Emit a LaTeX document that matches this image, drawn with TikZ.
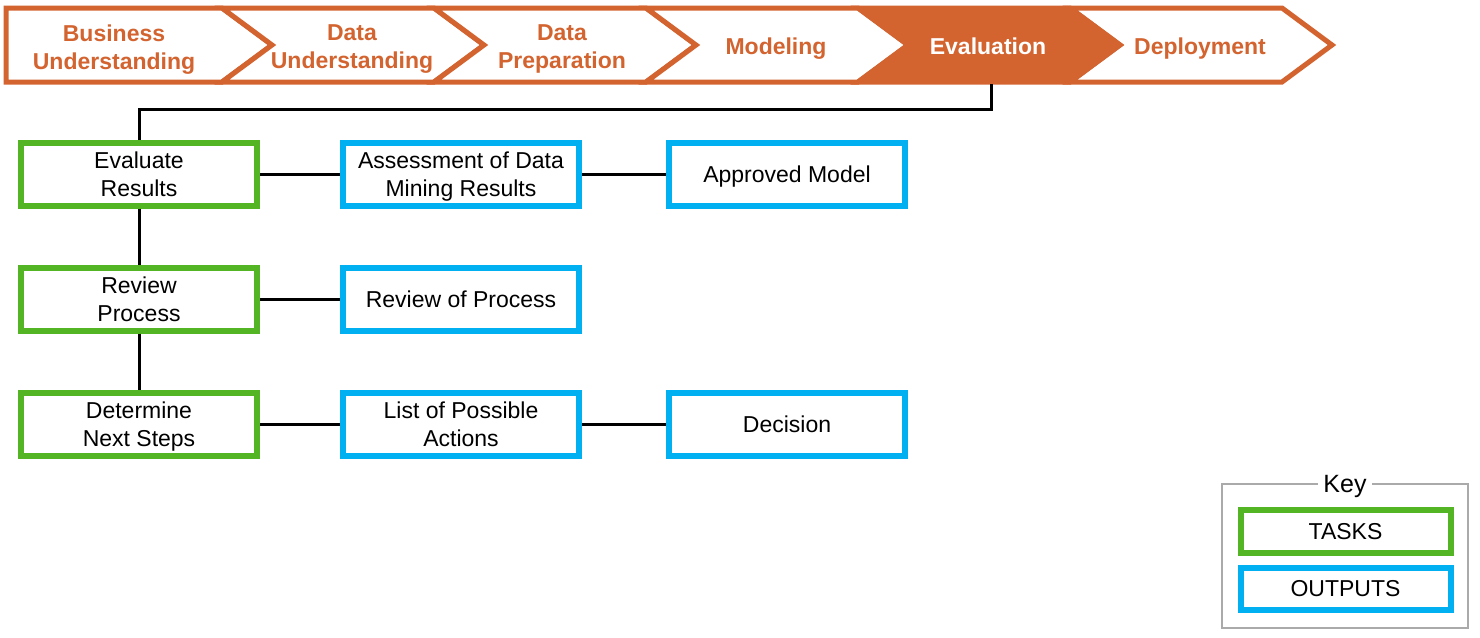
\documentclass[tikz,border=0pt]{standalone}
\usepackage{fontspec}
\setmainfont{Liberation Sans}
\begin{document}
\begin{tikzpicture}[x=1pt,y=1pt,
  chev/.style={draw=crisporange,line width=5pt,line join=miter,fill=white},
  chevfill/.style={draw=crisporange,line width=5pt,line join=miter,fill=crisporange},
  chevtext/.style={text=crisporange,font=\fontsize{23}{28}\selectfont\bfseries,align=center,inner sep=0pt,text depth=0pt},
  box/.style={draw,line width=6pt,fill=white,minimum width=236pt,minimum height=63pt,inner sep=0pt,align=center,text depth=0pt,font=\fontsize{23}{28}\selectfont},
  taskbox/.style={box,draw=taskgreen},
  outbox/.style={box,draw=outblue},
  link/.style={draw=black,line width=3pt},
]
\definecolor{crisporange}{RGB}{211,100,48}
\definecolor{taskgreen}{RGB}{84,181,36}
\definecolor{outblue}{RGB}{0,176,240}
\definecolor{keygray}{RGB}{170,170,170}
\useasboundingbox (0,0) rectangle (1480,-637);
\fill[white] (0,0) rectangle (1480,-637);

% chevrons
\draw[chev] (6,-8) -- (222,-8) -- (272,-45) -- (222,-82) -- (6,-82) -- cycle;
\foreach \xo in {222,434,646,1070}{
  \draw[chev] (\xo,-8) -- ({\xo+212},-8) -- ({\xo+262},-45) -- ({\xo+212},-82) -- (\xo,-82) -- ({\xo+50},-45) -- cycle;
}
\draw[chevfill] (858,-8) -- (1070,-8) -- (1120,-45) -- (1070,-82) -- (858,-82) -- (908,-45) -- cycle;

\node[chevtext] (bu) at (114,-47) {Business\\Understanding};
\node[chevtext] (du) at (352,-47) {Data\\Understanding};
\node[chevtext] (dp) at (562,-47) {Data\\Preparation};
\node[chevtext] (mo) at (776,-46) {Modeling};
\node[chevtext,text=white] (ev) at (988,-46) {Evaluation};
\node[chevtext] (de) at (1200,-46) {Deployment};
\coordinate (evbot) at (991,-84);
\coordinate (evturn) at (991,-109);

% boxes
\node[taskbox] (er) at (139,-174) {Evaluate\\Results};
\node[outbox] (ad) at (461,-174) {Assessment of Data\\Mining Results};
\node[outbox] (am) at (787,-174) {Approved Model};
\node[taskbox] (rp) at (139,-299) {Review\\Process};
\node[outbox] (rop) at (461,-299) {Review of Process};
\node[taskbox] (dn) at (139,-424) {Determine\\Next Steps};
\node[outbox] (lp) at (461,-424) {List of Possible\\Actions};
\node[outbox] (dc) at (787,-424) {Decision};

% connectors
\draw[link,line join=miter] (evbot) -- (evturn) -| (er.north);
\draw[link] (er) -- (ad);
\draw[link] (ad) -- (am);
\draw[link] (er) -- (rp);
\draw[link] (rp) -- (rop);
\draw[link] (rp) -- (dn);
\draw[link] (dn) -- (lp);
\draw[link] (lp) -- (dc);

% key
\draw[keygray,line width=1.5pt] (1222,-484) rectangle (1468,-628);
\node[fill=white,inner xsep=5pt,inner ysep=0pt,text depth=0pt,font=\fontsize{25}{28}\selectfont] (key) at (1345,-484) {Key};
\node[box,draw=taskgreen,minimum width=210pt,minimum height=43pt] (kt) at (1345.5,-531) {TASKS};
\node[box,draw=outblue,minimum width=210pt,minimum height=42pt] (ko) at (1345.5,-588.5) {OUTPUTS};
\end{tikzpicture}
\end{document}
